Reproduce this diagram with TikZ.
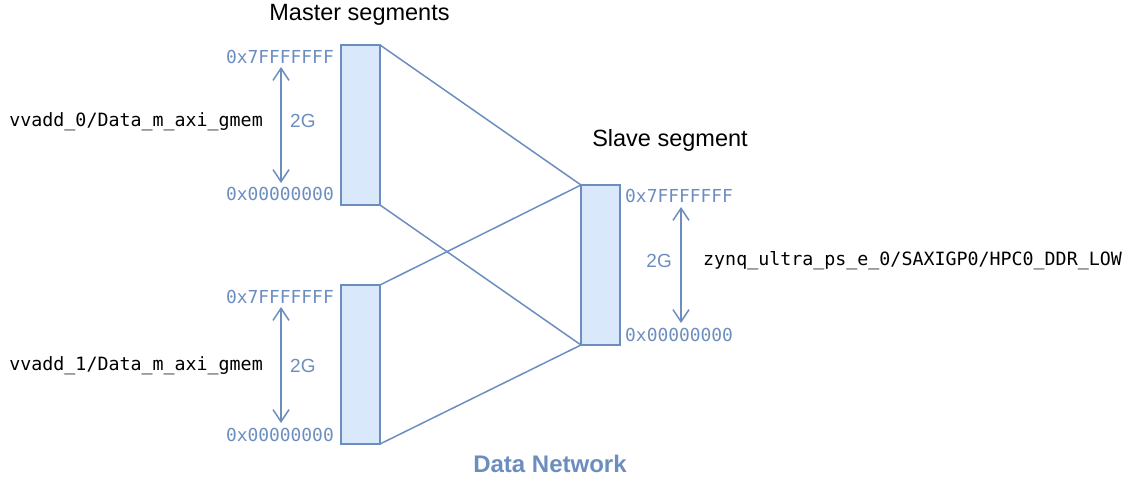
\documentclass[tikz,border=0pt]{standalone}
\usepackage{fontspec}
\setmainfont{Liberation Sans}
\newfontfamily\monof{DejaVu Sans Mono}
\usetikzlibrary{arrows.meta}
\definecolor{dblue}{HTML}{6C8EBF}
\definecolor{lblue}{HTML}{DAE8FC}
\tikzset{
  seg/.style={draw=dblue, fill=lblue, line width=1.5pt},
  conn/.style={draw=dblue, line width=1.5pt},
  addr/.style={text=dblue, font=\monof\fontsize{17.9}{20}\selectfont, inner sep=0pt},
  lbl/.style={text=black, font=\monof\fontsize{18.3}{20}\selectfont, inner sep=0pt},
  size/.style={text=dblue, font=\fontsize{19}{21}\selectfont, inner sep=0pt},
  title/.style={text=black, font=\fontsize{23.5}{26}\selectfont, inner sep=0pt},
  span/.style={draw=dblue, line width=1.5pt, {Straight Barb[length=12pt,width=16pt,line width=1.5pt]}-{Straight Barb[length=12pt,width=16pt,line width=1.5pt]}}
}
\begin{document}
\begin{tikzpicture}[x=1pt,y=-1pt]
\useasboundingbox (0,0) rectangle (1130,484);
% segments
\draw[seg] (341,45) rectangle (380,205);
\coordinate (m0tr) at (380,45);
\coordinate (m0br) at (380,205);
\draw[seg] (341,285) rectangle (380,444);
\coordinate (m1tr) at (380,285);
\coordinate (m1br) at (380,444);
\draw[seg] (581,185) rectangle (620,345);
\coordinate (stl) at (581,185);
\coordinate (sbl) at (581,345);
% connectors
\draw[conn] (m0tr) -- (stl);
\draw[conn] (m0br) -- (sbl);
\draw[conn] (m1tr) -- (stl);
\draw[conn] (m1br) -- (sbl);
% titles
\node[title] (tm) at (359.5,15) {Master segments};
\node[title] (ts) at (670,140) {Slave segment};
\node[text=dblue, font=\bfseries\fontsize{24}{26}\selectfont, inner sep=0pt] (dn) at (550,464) {Data Network};
% master 0
\node[addr, anchor=east] (a0h) at (334,57) {0x7FFFFFFF};
\node[addr, anchor=east] (a0l) at (334,194) {0x00000000};
\coordinate (r0t) at (281,67);
\coordinate (r0b) at (281,183);
\draw[span] (r0t) -- (r0b);
\node[size, anchor=west] (g0) at (290,121) {2G};
\node[lbl, anchor=east] (n0) at (263,122) {vvadd\_0/Data\_m\_axi\_gmem};
% master 1
\node[addr, anchor=east] (a1h) at (334,297) {0x7FFFFFFF};
\node[addr, anchor=east] (a1l) at (334,435) {0x00000000};
\coordinate (r1t) at (281,307);
\coordinate (r1b) at (281,423);
\draw[span] (r1t) -- (r1b);
\node[size, anchor=west] (g1) at (290,366) {2G};
\node[lbl, anchor=east] (n1) at (263,366) {vvadd\_1/Data\_m\_axi\_gmem};
% slave
\node[addr, anchor=west] (sh) at (625,196) {0x7FFFFFFF};
\node[addr, anchor=west] (sl) at (625,335) {0x00000000};
\coordinate (rst) at (681,207);
\coordinate (rsb) at (681,323);
\draw[span] (rst) -- (rsb);
\node[size, anchor=east] (gs) at (672,261) {2G};
\node[lbl, anchor=west] (ns) at (703,261) {zynq\_ultra\_ps\_e\_0/SAXIGP0/HPC0\_DDR\_LOW};
\end{tikzpicture}
\end{document}
